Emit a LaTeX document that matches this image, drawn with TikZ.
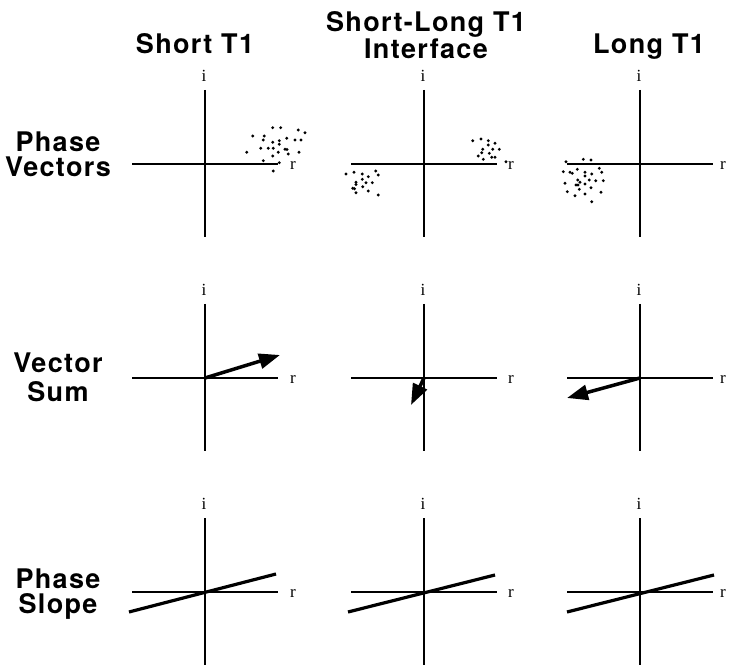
\documentclass[tikz,border=0pt]{standalone}
\usepackage{fontspec}
\setmainfont{Liberation Serif}
\newfontfamily\headfont[LetterSpace=5]{TeX Gyre Heros}
\usetikzlibrary{arrows.meta}
\begin{document}
\begin{tikzpicture}[x=1pt,y=-1pt,
  axis/.style={line width=2.4pt},
  vec/.style={line width=3.5pt,-{Triangle[length=21pt,width=15pt]}},
  slope/.style={line width=3.2pt},
  head/.style={font=\headfont\bfseries\fontsize{27}{24}\selectfont,align=center,inner sep=0pt},
  lab/.style={font=\fontsize{17}{18}\selectfont,inner sep=0pt},
  dotmark/.style={fill=black}]
\useasboundingbox (0,0) rectangle (729,668);

% column titles
\node[head,anchor=base] (t1) at (195,54) {Short T1};
\node[head,anchor=north,font=\headfont\bfseries\fontsize{27}{25}\selectfont] (t2) at (426,11.5) {Short-Long T1\\Interface};
\node[head,anchor=base] (t3) at (649,54) {Long T1};

% row labels
\node[head,anchor=north,font=\headfont\bfseries\fontsize{27}{25}\selectfont] (l1) at (58,131.5) {Phase\\Vectors};
\node[head,anchor=north,font=\headfont\bfseries\fontsize{27}{29}\selectfont] (l2) at (58,352.6) {Vector\\Sum};
\node[head,anchor=north,font=\headfont\bfseries\fontsize{27}{25}\selectfont] (l3) at (58,569) {Phase\\Slope};

% axes
\foreach \c/\x/\rx in {1/205/293,2/424/511,3/640/723}{
  \foreach \r/\y in {1/164,2/378,3/592}{
    \coordinate (o\c\r) at (\x,\y);
    \coordinate (w\c\r) at (\x-73,\y);
    \coordinate (e\c\r) at (\x+73,\y);
    \coordinate (n\c\r) at (\x,\y-74);
    \coordinate (s\c\r) at (\x,\y+73);
    \draw[axis] (w\c\r) -- (e\c\r);
    \draw[axis] (n\c\r) -- (s\c\r);
    \node[lab] (i\c\r) at (\x-1,\y-88) {i};
    \node[lab] (r\c\r) at (\rx,\y+1) {r};
  }
}

% phase vector dots
\foreach \p in {(272.7,127.7),(280.7,127.7),(298.3,130),(305,132.7),(252.7,136),
  (264.3,136),(263.3,140),(286.7,138.3),(295,140),(301,140),(272.7,142.3),
  (279.3,140.7),(279.3,144.3),(260.7,148.3),(268.3,148.3),(273.3,148.3),
  (285,149.3),(287,149.5),(246.7,152.3),(278.3,152.3),(288.3,154),(299,152.3),
  (272.7,156),(263.3,160.7),(279.3,162.7),(273.3,171)}
  \fill[dotmark] \p circle (1.6pt);
\foreach \p in {(346,174),(354,172.3),(362.3,174),(368.3,176.7),(375.7,171),
  (378.3,175),(362.3,179.3),(356,182.3),(356,184.5),(366,182.7),(372.3,182.7),
  (352.7,188.3),(354.5,188.8),(362.7,186.7),(356,192.7),(368.3,191),(378.3,195)}
  \fill[dotmark] \p circle (1.6pt);
\foreach \p in {(472.7,140.7),(481,139),(488.3,140.7),(495,143.3),(488.3,145),
  (482.7,149.3),(492.7,149.3),(499.3,149.3),(481.7,152.7),(489.3,153.3),
  (478.3,156),(483.3,159.3),(491.7,157.3),(495,157.3),(506,161.7)}
  \fill[dotmark] \p circle (1.6pt);
\foreach \p in {(566,161.7),(583.3,159.3),(591,160),(563.3,171.7),(570,172.3),
  (572.3,173.3),(577.3,169.3),(585,172.3),(591.7,174),(585,176),(599.3,168.3),
  (601.7,172.3),(577.7,180),(580,182.3),(589.3,180),(595.7,180.7),(603.3,180.7),
  (565,183.3),(576,185),(578,185),(585,184),(591,187.7),(579.3,189.3),(567.3,191.7),
  (575,195.7),(585,194),(601,192.3),(591.7,201.7)}
  \fill[dotmark] \p circle (1.6pt);

% vector sums
\coordinate (v1) at (280,355);
\coordinate (v2) at (411,405);
\coordinate (v3) at (567,398);
\draw[vec] (o12) -- (v1);
\draw[vec] (o22) -- (v2);
\draw[vec] (o32) -- (v3);

% phase slopes
\coordinate (a1) at (129,612); \coordinate (b1) at (276,574);
\coordinate (a2) at (348,612); \coordinate (b2) at (495,575);
\coordinate (a3) at (567,612); \coordinate (b3) at (714,575);
\draw[slope] (a1) -- (b1);
\draw[slope] (a2) -- (b2);
\draw[slope] (a3) -- (b3);
\end{tikzpicture}
\end{document}
